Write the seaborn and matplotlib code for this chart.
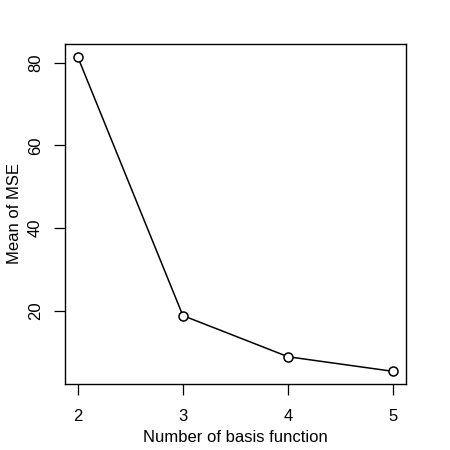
import matplotlib
matplotlib.use("Agg")
import matplotlib.pyplot as plt
import seaborn as sns
import pandas as pd

n_basis = [2, 3, 4, 5]
mean_mse = [81.45, 18.8, 8.84, 5.3]
x_ticks = [2, 3, 4, 5]
y_ticks = [20, 40, 60, 80]

sns.set_style("ticks")
plt.rcParams['font.family'] = ['Liberation Sans', 'DejaVu Sans']
plt.rcParams['text.color'] = 'black'
plt.rcParams['axes.labelcolor'] = 'black'
plt.rcParams['xtick.color'] = 'black'
plt.rcParams['ytick.color'] = 'black'

df = pd.DataFrame({"n": n_basis, "mse": mean_mse})

fig = plt.figure(figsize=(4.5, 4.5), dpi=100)
ax = fig.add_axes([65/450, (450-384)/450, (406-65)/450, (384-44)/450])
sns.lineplot(data=df, x="n", y="mse", ax=ax, color="black", linewidth=1.1,
             marker="o", markersize=6.5, markerfacecolor="white",
             markeredgecolor="black", markeredgewidth=1.1)

ax.set_xlim(1.88, 5.12)
ax.set_ylim(2.25, 84.5)
ax.set_xticks(x_ticks)
ax.set_yticks(y_ticks)
ax.set_xticklabels([str(v) for v in x_ticks], fontsize=12)
ax.set_yticklabels([str(v) for v in y_ticks], fontsize=12, rotation=90, va="center")
ax.tick_params(axis="both", direction="out", length=8, width=0.9, color="black",
               labelcolor="black")
ax.tick_params(axis="x", pad=10)
ax.tick_params(axis="y", pad=8)
for s in ax.spines.values():
    s.set_visible(True)
    s.set_linewidth(1.0)
    s.set_color("black")

ax.set_xlabel("Number of basis function", fontsize=12, color="black")
ax.set_ylabel("Mean of MSE", fontsize=12, color="black")
ax.xaxis.set_label_coords(0.5, -0.135)
ax.yaxis.set_label_coords(-0.125, 0.5)

fig.savefig("out.png", dpi=100)
